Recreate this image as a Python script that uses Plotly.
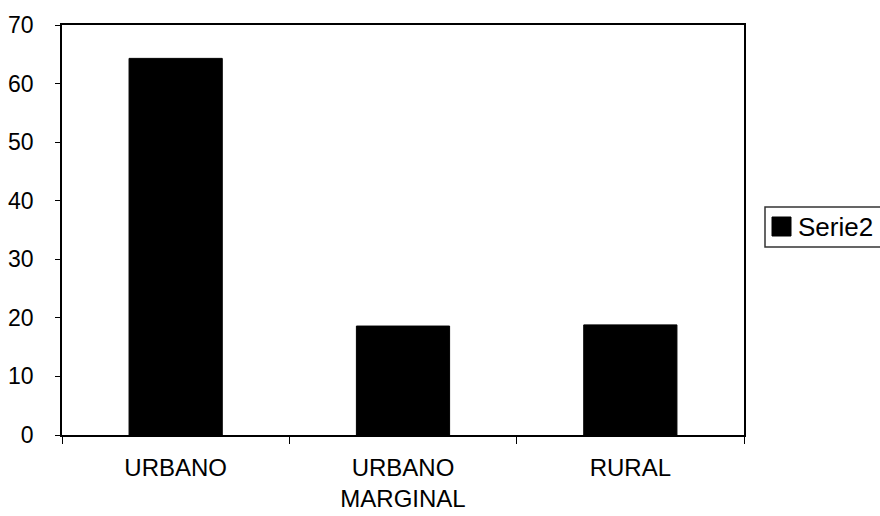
import plotly.graph_objects as go

categories = ["URBANO", "URBANO<br>MARGINAL", "RURAL"]
serie2 = [64.3, 18.6, 18.8]
legend_name = "Serie2"

fig = go.Figure()
fig.add_trace(go.Bar(x=categories, y=serie2, name=legend_name, showlegend=False,
                     marker=dict(color="black", line=dict(color="black", width=1))))

# paper coords helpers (plot area 62..744 x, 25..435 y)
def px(x):
    return (x - 62) / 682

def py(y):
    return (435 - y) / 410

# legend drawn by hand so it can hang off the right edge like the original
fig.add_shape(type="rect", xref="paper", yref="paper",
              x0=px(765), x1=px(884), y0=py(247), y1=py(207),
              line=dict(color="#333", width=1.5), fillcolor="white")
fig.add_shape(type="rect", xref="paper", yref="paper",
              x0=px(772), x1=px(791), y0=py(236), y1=py(217),
              line=dict(color="black", width=1), fillcolor="black")
fig.add_annotation(xref="paper", yref="paper", x=px(796), y=py(227),
                   xanchor="left", yanchor="middle", showarrow=False,
                   text=legend_name, font=dict(size=26))

font = dict(family="Liberation Sans, Arial", size=23, color="black")
fig.update_layout(
    width=880, height=516,
    margin=dict(l=62, r=136, t=25, b=81),
    paper_bgcolor="white", plot_bgcolor="white",
    bargap=0.59,
    font=font,
    showlegend=False,
)
fig.update_xaxes(showline=True, linecolor="black", linewidth=2, mirror=True,
                 ticks="outside", tickson="boundaries", ticklen=7, tickcolor="black",
                 ticklabelstandoff=10, showgrid=False, automargin=False,
                 tickfont=dict(size=24))
fig.update_yaxes(range=[0, 70], dtick=10, showline=True, linecolor="black", linewidth=1.5,
                 mirror=True, ticks="outside", ticklen=5, tickcolor="black",
                 ticklabelstandoff=17, showgrid=False, zeroline=False, automargin=False)

fig.write_html("out.html", config={"displayModeBar": False},
               post_script="document.body.style.margin='0';")
